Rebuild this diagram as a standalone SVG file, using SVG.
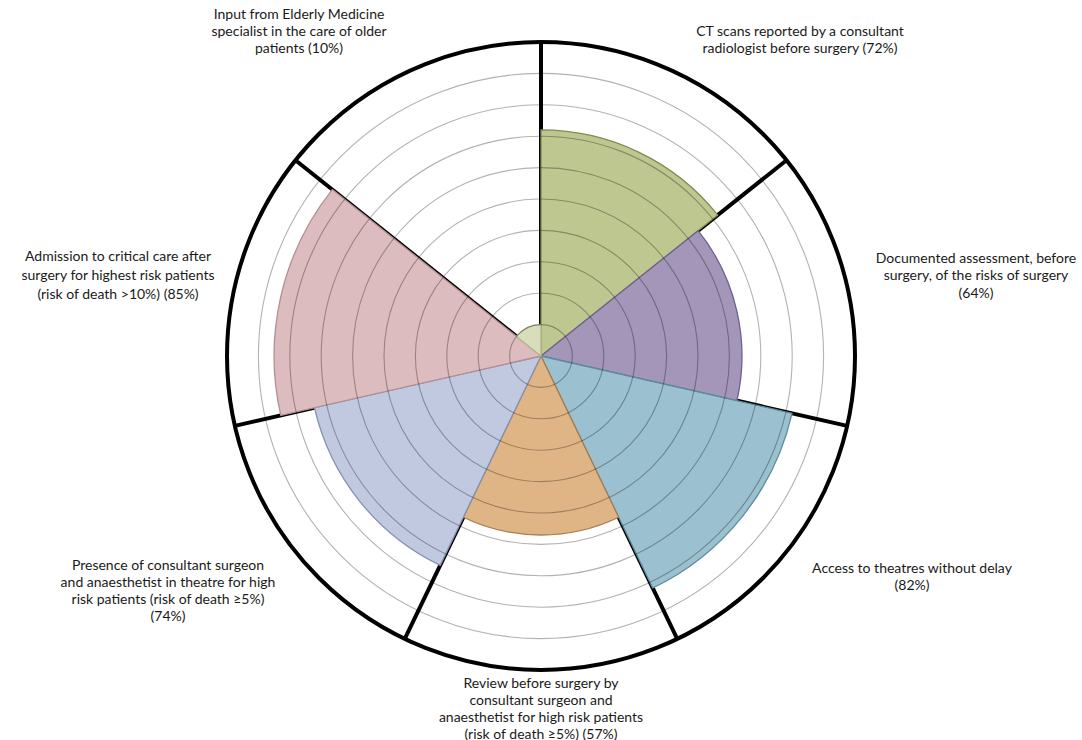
<svg xmlns="http://www.w3.org/2000/svg" width="1082" height="740" viewBox="0 0 1082 740">
  <style>
    .lbl { font-family: Lato, "Liberation Sans", sans-serif; font-size: 14px; fill: #1a1a1a; text-anchor: middle; }
    .spoke { stroke: #000; stroke-width: 4; stroke-linecap: butt; }
    .grid { fill: none; stroke: #000; stroke-opacity: 0.3; stroke-width: 1.1; }
    .sector { stroke-width: 1.3; stroke-linejoin: round; }
  </style>
  <rect width="1082" height="740" fill="#fff"/>
  <g id="spokes">
    <line class="spoke" x1="541" y1="356" x2="541" y2="42"/>
    <line class="spoke" x1="541" y1="356" x2="786.49" y2="160.22"/>
    <line class="spoke" x1="541" y1="356" x2="847.13" y2="425.87"/>
    <line class="spoke" x1="541" y1="356" x2="677.24" y2="638.90"/>
    <line class="spoke" x1="541" y1="356" x2="404.76" y2="638.90"/>
    <line class="spoke" x1="541" y1="356" x2="234.87" y2="425.87"/>
    <line class="spoke" x1="541" y1="356" x2="295.51" y2="160.22"/>
  </g>
  <g id="sectors">
    <path id="ct" class="sector" fill="#bec78f" stroke="#7f8c4c" d="M541,356 L541,129.92 A226.08,226.08 0 0 1 717.76,215.04 Z"/>
    <path id="documented" class="sector" fill="#a396b8" stroke="#6e6190" d="M541,356 L698.12,230.70 A200.96,200.96 0 0 1 736.92,400.72 Z"/>
    <path id="access" class="sector" fill="#9bc0cf" stroke="#5b8d9e" d="M541,356 L792.02,413.29 A257.48,257.48 0 0 1 652.72,587.98 Z"/>
    <path id="review" class="sector" fill="#e0b585" stroke="#a87c4c" d="M541,356 L618.66,517.25 A178.98,178.98 0 0 1 463.34,517.25 Z"/>
    <path id="presence" class="sector" fill="#c0c9e0" stroke="#8591b0" d="M541,356 L440.18,565.35 A232.36,232.36 0 0 1 314.46,407.70 Z"/>
    <path id="admission" class="sector" fill="#dcbcbe" stroke="#b48f93" d="M541,356 L280.79,415.39 A266.9,266.9 0 0 1 332.33,189.59 Z"/>
    <path id="input" class="sector" fill="#d8ddbb" stroke="#b2ba8c" d="M541,356 L516.45,336.42 A31.4,31.4 0 0 1 541,324.6 Z"/>
  </g>
  <g id="gridlines">
    <circle class="grid" cx="541" cy="356" r="31.4"/>
    <circle class="grid" cx="541" cy="356" r="62.8"/>
    <circle class="grid" cx="541" cy="356" r="94.2"/>
    <circle class="grid" cx="541" cy="356" r="125.6"/>
    <circle class="grid" cx="541" cy="356" r="157"/>
    <circle class="grid" cx="541" cy="356" r="188.4"/>
    <circle class="grid" cx="541" cy="356" r="219.8"/>
    <circle class="grid" cx="541" cy="356" r="251.2"/>
    <circle class="grid" cx="541" cy="356" r="282.6"/>
  </g>
  <circle id="outer" cx="541" cy="356" r="314" fill="none" stroke="#000" stroke-width="4"/>
  <g id="labels">
    <text class="lbl" x="299" y="19">Input from Elderly Medicine</text>
    <text class="lbl" x="299" y="36">specialist in the care of older</text>
    <text class="lbl" x="299" y="53">patients (10%)</text>
    <text class="lbl" x="800" y="36">CT scans reported by a consultant</text>
    <text class="lbl" x="800" y="53">radiologist before surgery (72%)</text>
    <text class="lbl" x="976" y="263">Documented assessment, before</text>
    <text class="lbl" x="976" y="280">surgery, of the risks of surgery</text>
    <text class="lbl" x="976" y="298">(64%)</text>
    <text class="lbl" x="912" y="573">Access to theatres without delay</text>
    <text class="lbl" x="912" y="590">(82%)</text>
    <text class="lbl" x="541" y="688">Review before surgery by</text>
    <text class="lbl" x="541" y="705">consultant surgeon and</text>
    <text class="lbl" x="541" y="722">anaesthetist for high risk patients</text>
    <text class="lbl" x="541" y="739">(risk of death ≥5%) (57%)</text>
    <text class="lbl" x="168" y="570">Presence of consultant surgeon</text>
    <text class="lbl" x="168" y="587">and anaesthetist in theatre for high</text>
    <text class="lbl" x="168" y="604">risk patients (risk of death ≥5%)</text>
    <text class="lbl" x="168" y="621">(74%)</text>
    <text class="lbl" x="118" y="261">Admission to critical care after</text>
    <text class="lbl" x="118" y="280">surgery for highest risk patients</text>
    <text class="lbl" x="118" y="299">(risk of death &gt;10%) (85%)</text>
  </g>
</svg>
